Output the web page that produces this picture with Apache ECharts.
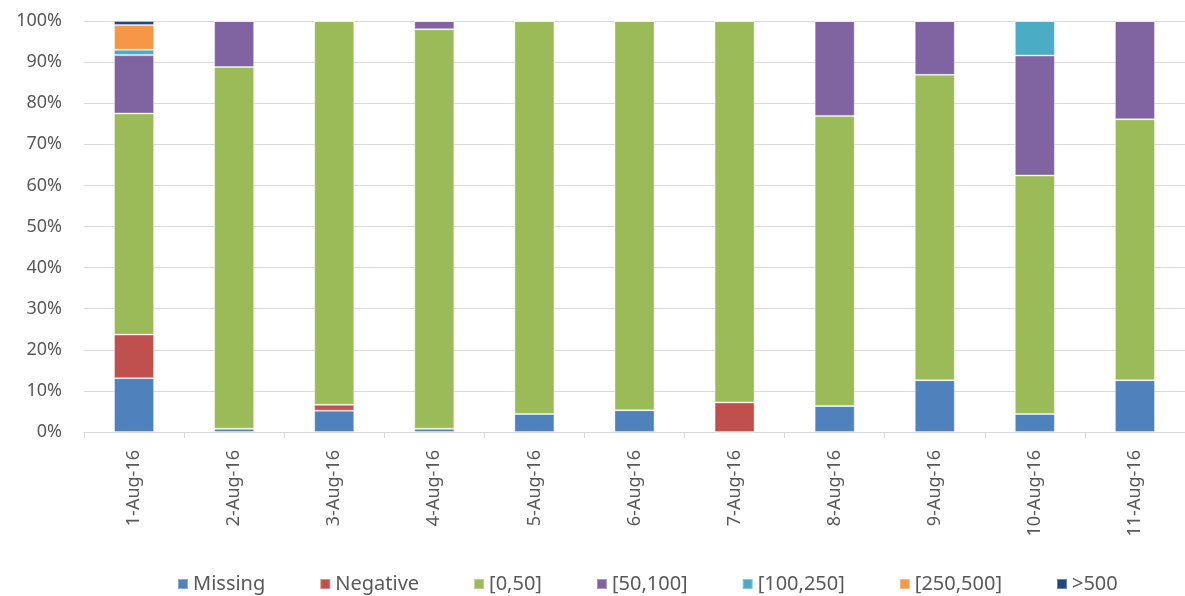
<!DOCTYPE html>
<html>
<head>
<meta charset="utf-8">
<script src="https://cdn.jsdelivr.net/npm/echarts@6/dist/echarts.min.js"></script>
<style>
html,body{margin:0;padding:0;background:#fff;}
#chart{width:1185px;height:596px;}
</style>
</head>
<body>
<div id="chart"></div>
<script>
var categories = ['1-Aug-16','2-Aug-16','3-Aug-16','4-Aug-16','5-Aug-16','6-Aug-16','7-Aug-16','8-Aug-16','9-Aug-16','10-Aug-16','11-Aug-16'];
var seriesNames = ['Missing','Negative','[0,50]','[50,100]','[100,250]','[250,500]','>500'];
var missing   = [13.1, 0.8, 5.2, 0.8, 4.4, 5.3, 0,    6.3, 12.6, 4.4, 12.6];
var negative  = [10.6, 0,   1.4, 0,   0,   0,   7.2,  0,   0,    0,   0];
var range0_50 = [53.8, 88.0,93.4,97.2,95.6,94.7,92.8, 70.6,74.3, 58.0,63.5];
var range50_100=[14.2, 11.2,0,   2.0, 0,   0,   0,    23.1,13.1, 29.2,23.9];
var range100_250=[1.3, 0,   0,   0,   0,   0,   0,    0,   0,    8.4, 0];
var range250_500=[6.0, 0,   0,   0,   0,   0,   0,    0,   0,    0,   0];
var over500   = [1.0,  0,   0,   0,   0,   0,   0,    0,   0,    0,   0];
var yTicks = [0,10,20,30,40,50,60,70,80,90,100];

var dataSets = [missing, negative, range0_50, range50_100, range100_250, range250_500, over500];
var colors = ['#4F81BD','#C0504D','#9BBB59','#8064A2','#4BACC6','#F79646','#1F497D'];
var font = '"Noto Sans", sans-serif';

var chart = echarts.init(document.getElementById('chart'), null, {renderer:'canvas'});
chart.setOption({
  animation: false,
  color: colors,
  grid: {left: 84, top: 21, width: 1109, height: 411, containLabel: false},
  legend: {
    bottom: -3,
    left: 172,
    icon: 'rect',
    itemWidth: 10,
    itemHeight: 10,
    itemGap: 54,
    textStyle: {color: '#595959', fontSize: 20, fontFamily: font},
    data: seriesNames
  },
  xAxis: {
    type: 'category',
    data: categories,
    axisLine: {lineStyle: {color: '#D9D9D9', width: 1}},
    axisTick: {show: true, length: 6, lineStyle: {color: '#D9D9D9'}},
    axisLabel: {rotate: 90, color: '#595959', fontSize: 18, fontFamily: font, margin: 18}
  },
  yAxis: {
    type: 'value',
    min: yTicks[0],
    max: yTicks[yTicks.length-1],
    interval: 10,
    axisLine: {show: false},
    axisTick: {show: false},
    splitLine: {lineStyle: {color: '#D9D9D9', width: 1}},
    axisLabel: {formatter: '{value}%', color: '#595959', fontSize: 18, fontFamily: font, margin: 22}
  },
  series: seriesNames.map(function(n, i){
    return {
      name: n,
      type: 'bar',
      stack: 'total',
      barWidth: '40%',
      data: dataSets[i],
      itemStyle: {color: colors[i], borderColor: 'rgba(255,255,255,0.35)', borderWidth: 1}
    };
  })
});
</script>
</body>
</html>
